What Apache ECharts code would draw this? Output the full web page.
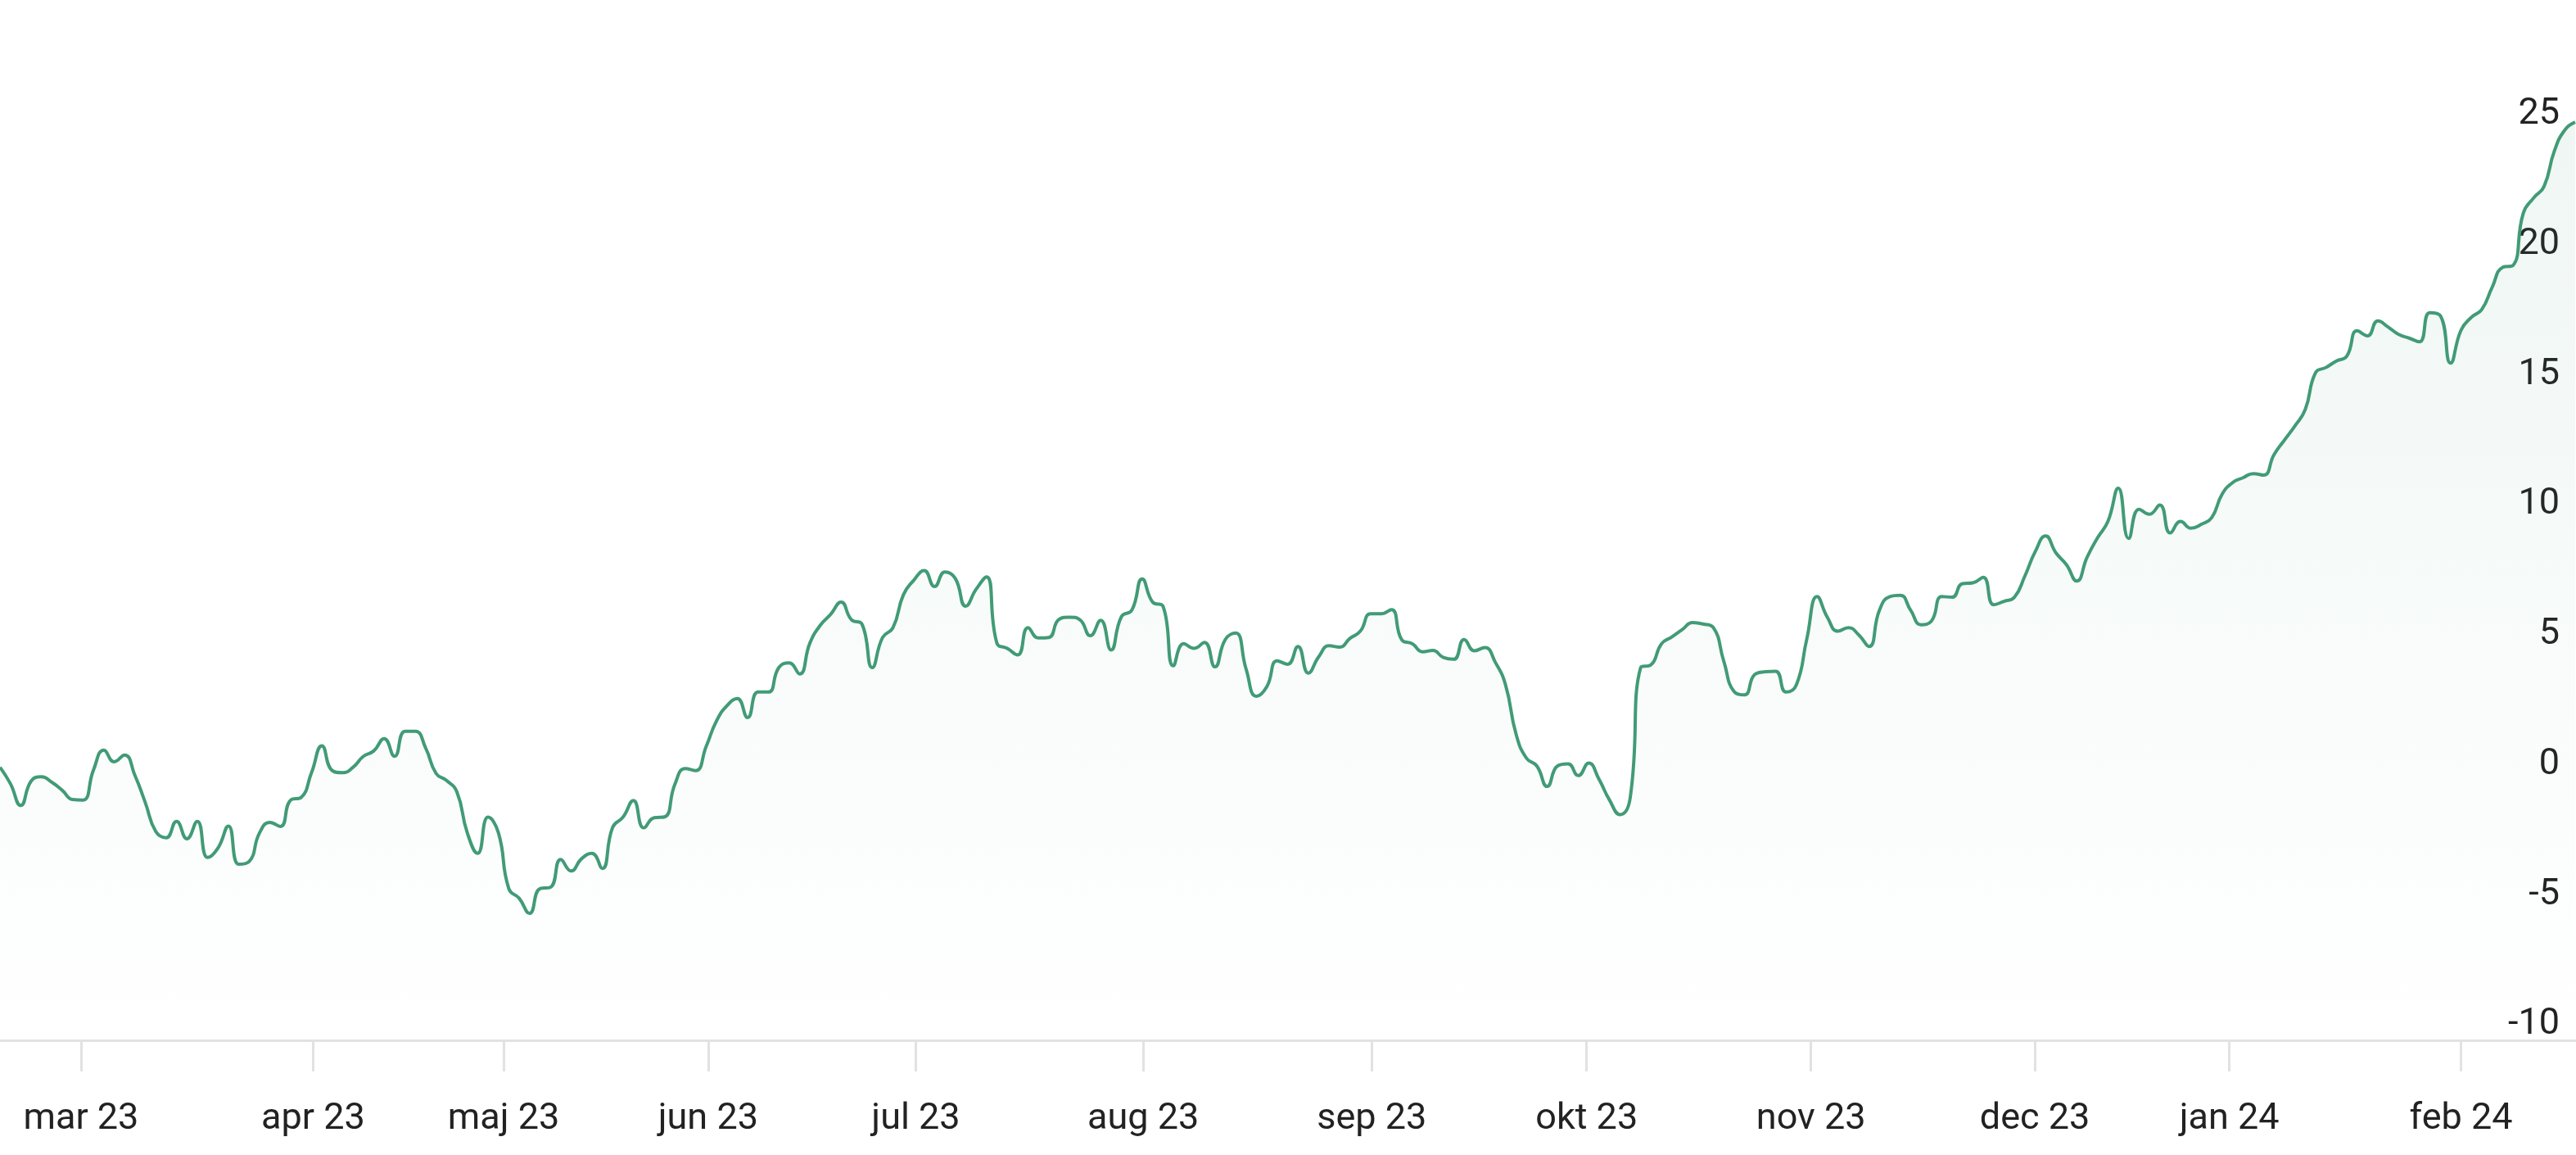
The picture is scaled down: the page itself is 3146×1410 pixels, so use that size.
<!DOCTYPE html>
<html>
<head>
<meta charset="utf-8">
<script src="https://cdn.jsdelivr.net/npm/echarts@6/dist/echarts.min.js"></script>
<style>
html,body{margin:0;padding:0;background:#ffffff;}
#chart{width:3146px;height:1410px;}
</style>
</head>
<body>
<div id="chart"></div>
<script>
// Daily development (%), one value per trading day
const values = [
  0.50,-0.13,-0.97,-0.03,0.13,-0.08,-0.39,-0.74,-0.76,0.39,
  1.16,0.71,0.97,0.18,-0.87,-1.97,-2.21,-1.58,-2.25,-1.58,
  -2.97,-2.60,-1.76,-3.23,-3.12,-2.02,-1.62,-1.78,-0.76,-0.66,
  0.29,1.32,0.37,0.29,0.50,0.92,1.13,1.60,0.92,1.88,
  1.88,1.23,0.26,-0.01,-0.45,-2.02,-2.81,-1.42,-2.02,-4.17,
  -4.54,-5.12,-4.17,-4.12,-3.05,-3.49,-3.02,-2.81,-3.39,-1.81,
  -1.42,-0.78,-1.83,-1.44,-1.41,-0.15,0.45,0.37,1.29,2.28,
  2.86,3.14,2.41,3.39,3.39,4.33,4.51,4.09,5.28,5.96,
  6.38,6.85,6.17,6.01,4.33,5.49,5.87,7.13,7.69,8.06,
  7.45,8.01,7.76,6.69,7.34,7.82,5.28,5.07,4.82,5.87,
  5.47,5.49,6.19,6.27,6.17,5.56,6.15,5.01,6.29,6.54,
  7.74,6.85,6.69,4.40,5.25,5.07,5.30,4.36,5.41,5.66,
  4.28,3.23,3.60,4.59,4.46,5.14,4.12,4.75,5.17,5.12,
  5.45,5.73,6.40,6.40,6.56,5.40,5.25,4.94,4.99,4.72,
  4.65,5.41,4.98,5.10,4.54,3.65,1.78,0.85,0.55,-0.24,
  0.55,0.63,0.18,0.66,0.03,-0.76,-1.32,-0.66,4.33,4.44,
  5.24,5.51,5.79,6.06,6.01,5.87,4.59,3.41,3.28,4.07,
  4.17,4.19,3.39,3.67,5.43,7.06,6.25,5.73,5.87,5.59,
  5.14,6.54,7.06,7.11,6.54,5.98,6.12,7.06,7.04,7.56,
  7.59,7.80,6.75,6.88,7.04,7.85,8.79,9.39,8.74,8.29,
  7.66,8.58,9.32,9.95,11.23,9.30,10.42,10.23,10.58,9.51,
  9.95,9.69,9.84,10.10,11.00,11.44,11.63,11.79,11.73,12.52,
  13.08,13.62,14.25,15.67,15.87,16.12,16.30,17.28,17.09,17.66,
  17.42,17.14,17.00,16.86,17.98,17.87,16.04,17.30,17.80,18.10,
  18.95,19.72,19.79,21.80,22.39,22.83,24.20,25.00,25.30
];

// Month tick labels and where they fall along the trading-day index
const monthLabels = ['mar 23','apr 23','maj 23','jun 23','jul 23','aug 23','sep 23','okt 23','nov 23','dec 23','jan 24','feb 24'];
const monthTickIndex = [7.80, 30.16, 48.5, 68.2, 88.2, 110.1, 132.1, 152.8, 174.4, 195.96, 214.7, 237.0];

// Value axis range
const yMin = -10, yMax = 30, yStep = 5;

const lineColor = '#419b76';
const chart = echarts.init(document.getElementById('chart'), null, {renderer: 'canvas'});

chart.setOption({
  animation: false,
  backgroundColor: '#ffffff',
  grid: {left: -4, right: 1, top: 0, bottom: 140, containLabel: false},
  xAxis: {
    type: 'value',
    min: 0,
    max: values.length - 1,
    splitLine: {show: false},
    axisLine: {show: true, onZero: false, lineStyle: {color: '#e2e2e2', width: 3}},
    axisTick: {show: true, customValues: monthTickIndex, length: 38, lineStyle: {color: '#e2e2e2', width: 3}},
    axisLabel: {
      show: true,
      customValues: monthTickIndex,
      margin: 74,
      fontFamily: 'Roboto',
      fontSize: 45,
      color: '#222222',
      formatter: function (v) {
        let best = 0, bd = Infinity;
        monthTickIndex.forEach(function (t, k) { const d = Math.abs(t - v); if (d < bd) { bd = d; best = k; } });
        return monthLabels[best];
      }
    }
  },
  yAxis: {
    type: 'value',
    position: 'right',
    min: yMin,
    max: yMax,
    interval: yStep,
    splitLine: {show: false},
    axisLine: {show: false},
    axisTick: {show: false},
    axisLabel: {
      inside: true,
      margin: 19,
      showMaxLabel: false,
      fontFamily: 'Roboto',
      fontSize: 45,
      color: '#222222',
      verticalAlign: 'bottom',
      lineHeight: 38
    }
  },
  series: [{
    type: 'line',
    data: values.map(function (v, i) { return [i, v]; }),
    smooth: 0.5,
    showSymbol: false,
    symbol: 'none',
    lineStyle: {color: lineColor, width: 4},
    areaStyle: {
      origin: 'start',
      color: new echarts.graphic.LinearGradient(0, 0, 0, 1, [
        {offset: 0, color: 'rgba(65,155,118,0.12)'},
        {offset: 1, color: 'rgba(65,155,118,0)'}
      ])
    },
    z: 1
  }]
});
</script>
</body>
</html>
